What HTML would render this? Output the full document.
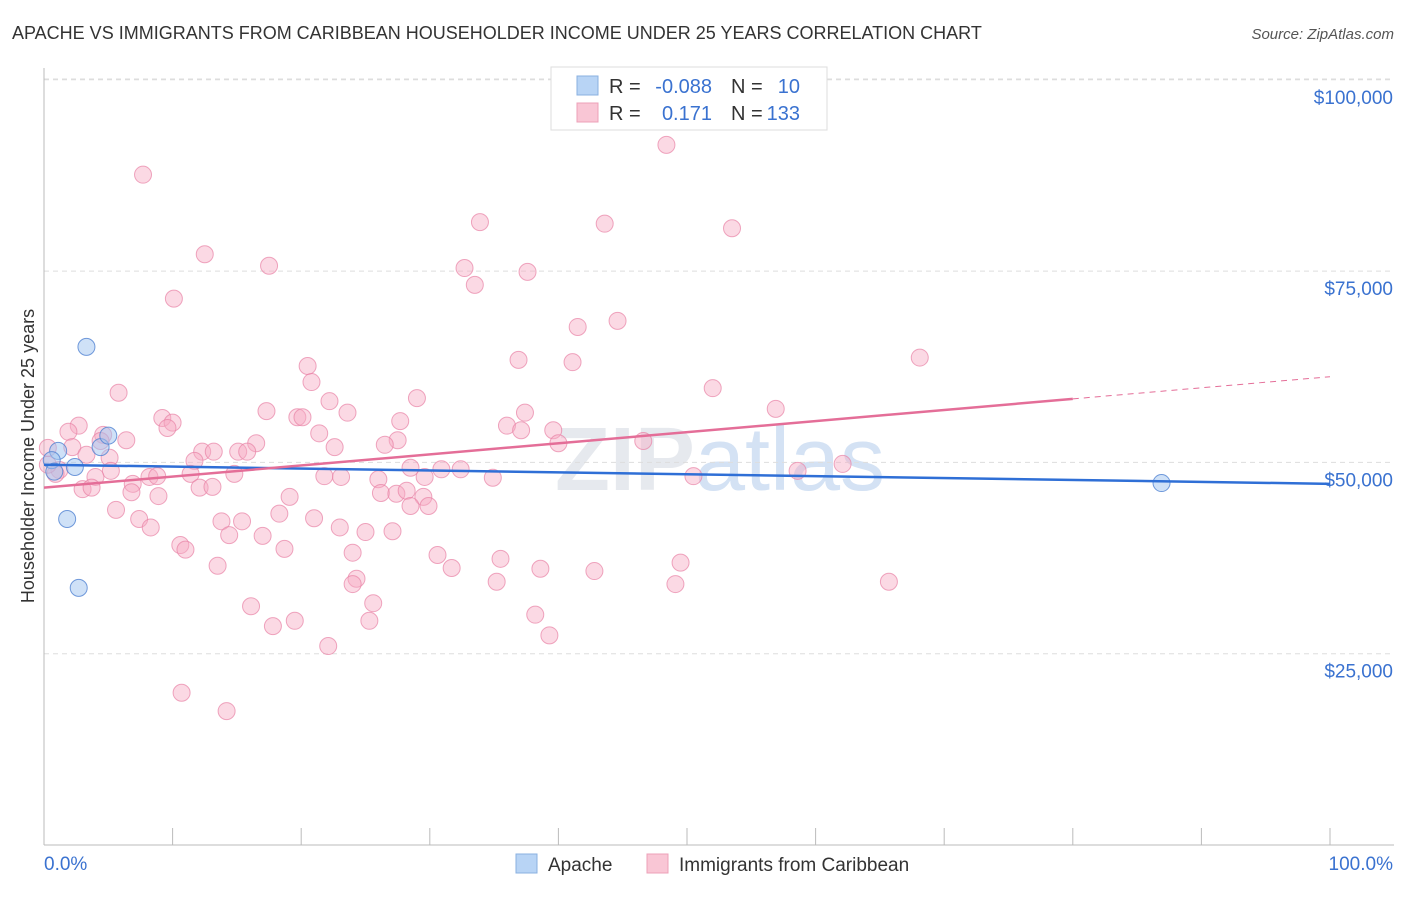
<!DOCTYPE html>
<html><head><meta charset="utf-8">
<style>
body{margin:0;background:#fff;font-family:"Liberation Sans",sans-serif;}
svg text{font-family:"Liberation Sans",sans-serif;}
</style></head>
<body>
<svg id="chart" width="1406" height="892" viewBox="0 0 1406 892" xmlns="http://www.w3.org/2000/svg">
<text x="12" y="39" font-size="18" fill="#333">APACHE VS IMMIGRANTS FROM CARIBBEAN HOUSEHOLDER INCOME UNDER 25 YEARS CORRELATION CHART</text>
<text x="1394" y="39" font-size="15" fill="#555" font-style="italic" text-anchor="end">Source: ZipAtlas.com</text>
<text x="34" y="456" font-size="18" fill="#333" text-anchor="middle" transform="rotate(-90 34 456)">Householder Income Under 25 years</text>
<text x="720" y="490" font-size="90" fill="#e6e9ee" text-anchor="middle" font-weight="bold" font-family="Liberation Serif">ZIP<tspan fill="#d4e2f4" font-family="Liberation Sans" font-weight="normal">atlas</tspan></text>
<g id="grid"></g><g id="axes"></g><g id="pts"></g><g id="lines"></g>
<g>
<rect x="551" y="67" width="276" height="63" fill="#fff" stroke="#ddd"/>
<rect x="577" y="76" width="21" height="19" fill="#b8d4f5" stroke="#8ab0e0"/>
<rect x="577" y="103" width="21" height="19" fill="#f9c6d5" stroke="#eda0b8"/>
<text x="609" y="93" font-size="20" fill="#333">R = </text><text x="712" y="93" font-size="20" fill="#3a72d0" text-anchor="end">-0.088</text>
<text x="731" y="93" font-size="20" fill="#333">N = </text><text x="800" y="93" font-size="20" fill="#3a72d0" text-anchor="end">10</text>
<text x="609" y="120" font-size="20" fill="#333">R = </text><text x="712" y="120" font-size="20" fill="#3a72d0" text-anchor="end">0.171</text>
<text x="731" y="120" font-size="20" fill="#333">N = </text><text x="800" y="120" font-size="20" fill="#3a72d0" text-anchor="end">133</text>
</g>
<g>
<rect x="516" y="854" width="21" height="19" fill="#b8d4f5" stroke="#8ab0e0"/>
<text x="548" y="871" font-size="19" fill="#333">Apache</text>
<rect x="647" y="854" width="21" height="19" fill="#f9c6d5" stroke="#eda0b8"/>
<text x="679" y="871" font-size="19" fill="#333">Immigrants from Caribbean</text>
</g>
</svg>
<script>
const yTicks=[25000,50000,75000,100000];
const yTickLabels=["$25,000","$50,000","$75,000","$100,000"];
const xTickLabels=["0.0%","100.0%"];
const apacheX=[3.3,4.4,5.0,1.8,2.7,2.4,1.1,0.6,0.8,86.9];
const apacheY=[65.1,52.0,53.5,42.6,33.6,49.4,51.5,50.3,48.8,47.3];
const caribX=[7.7,12.5,10.1,17.5,55.4,48.4,33.9,43.6,53.5,32.7,37.6,33.5,41.5,44.6,36.9,41.1,68.1,20.5,20.8,52.0,5.8,22.2,29.0,17.3,19.7,20.1,23.6,27.7,37.4,56.9,9.2,10.0,9.6,2.7,1.9,36.0,37.1,39.6,21.4,27.5,4.6,6.4,4.4,16.5,26.5,22.6,40.0,46.6,2.2,3.3,12.3,13.2,15.1,15.8,5.1,11.7,62.1,58.6,28.5,30.9,32.4,5.2,1.2,0.9,8.2,8.8,11.4,14.8,21.8,23.1,26.0,29.6,34.9,50.5,4.0,3.0,3.7,6.9,12.1,13.1,6.8,8.9,19.1,26.2,27.4,28.2,29.5,28.5,29.9,5.6,18.3,21.0,7.4,13.8,15.4,8.3,23.0,14.4,17.0,25.0,27.1,10.6,11.0,18.7,24.0,30.6,35.5,49.5,13.5,31.7,38.6,42.8,24.3,24.0,35.2,49.1,65.7,25.6,16.1,38.2,19.5,25.3,17.8,39.3,22.1,10.7,14.2,0.3,0.3];
const caribY=[87.6,77.2,71.4,75.7,95.1,91.5,81.4,81.2,80.6,75.4,74.9,73.2,67.7,68.5,63.4,63.1,63.7,62.6,60.5,59.7,59.1,58.0,58.4,56.7,55.9,55.9,56.5,55.4,56.5,57.0,55.8,55.2,54.5,54.8,54.0,54.8,54.2,54.2,53.8,52.9,53.6,52.9,52.8,52.5,52.3,52.0,52.5,52.8,52.0,51.0,51.4,51.4,51.4,51.4,50.6,50.2,49.8,48.9,49.3,49.1,49.1,48.9,49.0,48.5,48.1,48.2,48.5,48.5,48.2,48.1,47.8,48.1,48.0,48.2,48.1,46.5,46.7,47.2,46.7,46.8,46.1,45.6,45.5,46.0,45.9,46.3,45.5,44.3,44.3,43.8,43.3,42.7,42.6,42.3,42.3,41.5,41.5,40.5,40.4,40.9,41.0,39.2,38.6,38.7,38.2,37.9,37.4,36.9,36.5,36.2,36.1,35.8,34.8,34.1,34.4,34.1,34.4,31.6,31.2,30.1,29.3,29.3,28.6,27.4,26.0,19.9,17.5,51.9,49.7];
const apacheTrend=[49.7,47.2];   // y (k$) at x=0% and x=100%
const caribTrend=[46.7,61.2];
const caribSolidEnd=80;
const NS="http://www.w3.org/2000/svg";
const X0=44,X1=1330,Y0=845,PX=191.3/25000;
const xs=v=>X0+(X1-X0)*v/100;
const ys=v=>Y0-v*PX;
const yk=v=>ys(v*1000);
function mk(p,tag,a){const e=document.createElementNS(NS,tag);for(const k in a)e.setAttribute(k,a[k]);p.appendChild(e);return e;}
const grid=document.getElementById('grid'),axes=document.getElementById('axes');
yTicks.forEach((t,i)=>{
  const g=mk(grid,'line',{x1:X0,x2:1394,y1:ys(t),y2:ys(t),stroke:'#ddd','stroke-dasharray':'5,4'});
  
  
  const l=mk(axes,'text',{x:1393,y:ys(t)+24,'font-size':19,fill:'#3a72d0','text-anchor':'end'});
  l.textContent=yTickLabels[i];
  
  
});
const tg=mk(grid,'line',{x1:X0,x2:1394,y1:79,y2:79,stroke:'#ddd','stroke-dasharray':'5,4'});


const ya=mk(axes,'line',{x1:X0,x2:X0,y1:68,y2:Y0,stroke:'#bbb'});


const xa=mk(axes,'line',{x1:X0,x2:1394,y1:Y0,y2:Y0,stroke:'#bbb'});


for(let i=0;i<=10;i++){
  const t=mk(axes,'line',{x1:xs(i*10),x2:xs(i*10),y1:Y0,y2:Y0-17,stroke:'#bbb'});
  
  
}
[[0,'start',X0],[1,'end',1393]].forEach(([i,a,x])=>{
  const l=mk(axes,'text',{x:x,y:870,'font-size':19,fill:'#3a72d0','text-anchor':a});
  l.textContent=xTickLabels[i];
  
  
});
const pts=document.getElementById('pts');
caribX.forEach((x,i)=>{
  const c=mk(pts,'circle',{cx:xs(x),cy:yk(caribY[i]),r:8.5,fill:'rgba(246,170,195,0.45)',stroke:'rgba(232,130,165,0.7)','stroke-width':1});
  
  
});
apacheX.forEach((x,i)=>{
  const c=mk(pts,'circle',{cx:xs(x),cy:yk(apacheY[i]),r:8.5,fill:'rgba(160,195,240,0.5)',stroke:'rgba(80,130,210,0.8)','stroke-width':1});
  
  
});
const lines=document.getElementById('lines');
const ti=(tr,x)=>tr[0]+(tr[1]-tr[0])*x/100;
const bl=mk(lines,'line',{x1:xs(0),y1:yk(apacheTrend[0]),x2:xs(100),y2:yk(apacheTrend[1]),stroke:'#2f6fd6','stroke-width':2.5});


const pl=mk(lines,'line',{x1:xs(0),y1:yk(caribTrend[0]),x2:xs(caribSolidEnd),y2:yk(ti(caribTrend,caribSolidEnd)),stroke:'#e46e98','stroke-width':2.5});


const pd=mk(lines,'line',{x1:xs(caribSolidEnd),y1:yk(ti(caribTrend,caribSolidEnd)),x2:xs(100),y2:yk(caribTrend[1]),stroke:'#e46e98','stroke-width':1,'stroke-dasharray':'6,5'});


</script>
</body></html>
